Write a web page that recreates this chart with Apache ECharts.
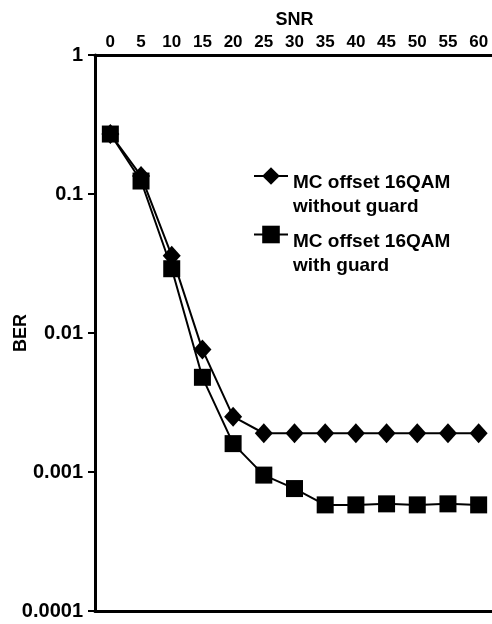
<!DOCTYPE html>
<html>
<head>
    <meta charset="utf-8">
    <title>BER vs SNR</title>
    <script src="https://cdn.jsdelivr.net/npm/echarts@6/dist/echarts.min.js"></script>
    <style>
        html, body { margin: 0; padding: 0; background: #fff; }
    </style>
</head>
<body>
    <div id="main" style="width: 492px;height:624px;"></div>
    <script type="text/javascript">
        // data
        var snr = ['0', '5', '10', '15', '20', '25', '30', '35', '40', '45', '50', '55', '60'];
        var withoutGuard = [0.27, 0.135, 0.036, 0.0076, 0.0025, 0.0019, 0.0019, 0.0019, 0.0019, 0.0019, 0.0019, 0.0019, 0.0019];
        var withGuard = [0.27, 0.124, 0.029, 0.0048, 0.0016, 0.00095, 0.00076, 0.00058, 0.00058, 0.00059, 0.00058, 0.00059, 0.00058];
        var berTicks = {'1': '1', '0.1': '0.1', '0.01': '0.01', '0.001': '0.001', '0.0001': '0.0001'};

        var nameA = 'MC offset 16QAM without guard';
        var nameB = 'MC offset 16QAM with guard';
        // legend text is broken in two lines, icon sits by the first one
        var legendLines = {};
        legendLines[nameA] = ['MC offset 16QAM', 'without guard'];
        legendLines[nameB] = ['MC offset 16QAM', 'with guard'];

        var myChart = echarts.init(document.getElementById('main'));

        var option = {
            animation: false,
            backgroundColor: '#fff',
            textStyle: { fontFamily: 'Liberation Sans' },
            grid: { left: 95, top: 55, width: 399, height: 556, outerBoundsMode: 'none', containLabel: false },
            legend: {
                orient: 'vertical',
                left: 248,
                top: 142,
                itemWidth: 34,
                itemHeight: 22,
                itemGap: -11,
                data: [nameA, nameB],
                formatter: function (name) {
                    return '{s| }\n' + legendLines[name].map(function (l) {
                        return '{t|' + l + '}';
                    }).join('\n');
                },
                textStyle: {
                    color: '#000',
                    rich: {
                        s: { fontSize: 10, lineHeight: 38 },
                        t: {
                            fontFamily: 'Liberation Sans',
                            fontWeight: 'bold',
                            fontSize: 19,
                            color: '#000',
                            lineHeight: 24
                        }
                    }
                }
            },
            xAxis: [{
                type: 'category',
                position: 'top',
                data: snr,
                boundaryGap: true,
                name: 'SNR',
                nameLocation: 'middle',
                nameGap: 26,
                nameMoveOverlap: false,
                nameTextStyle: { fontWeight: 'bold', fontSize: 18, color: '#000' },
                axisLine: { lineStyle: { color: '#000', width: 3 } },
                axisTick: { inside: true, length: 6, lineStyle: { color: '#000', width: 2 } },
                axisLabel: { margin: 4, fontWeight: 'bold', fontSize: 17, color: '#000', interval: 0 }
            }, {
                type: 'category',
                position: 'bottom',
                data: snr,
                axisLine: { lineStyle: { color: '#000', width: 3 } },
                axisTick: { show: false },
                axisLabel: { show: false }
            }],
            yAxis: {
                type: 'log',
                logBase: 10,
                min: 0.0001,
                max: 1,
                name: 'BER',
                nameLocation: 'middle',
                nameGap: 65,
                nameRotate: 90,
                nameMoveOverlap: false,
                nameTextStyle: { fontWeight: 'bold', fontSize: 18, color: '#000' },
                axisLine: { show: true, lineStyle: { color: '#000', width: 3 } },
                axisTick: { show: true, length: 7, lineStyle: { color: '#000', width: 2 } },
                splitLine: { show: false },
                axisLabel: {
                    margin: 12,
                    fontWeight: 'bold',
                    fontSize: 20,
                    color: '#000',
                    formatter: function (v) {
                        var k = String(+v.toPrecision(3));
                        return berTicks[k] !== undefined ? berTicks[k] : k;
                    }
                }
            },
            series: [{
                name: nameA,
                type: 'line',
                data: withoutGuard,
                symbol: 'diamond',
                symbolSize: [18, 20],
                itemStyle: { color: '#000' },
                lineStyle: { color: '#000', width: 2 }
            }, {
                name: nameB,
                type: 'line',
                data: withGuard,
                symbol: 'rect',
                symbolSize: 17,
                itemStyle: { color: '#000' },
                lineStyle: { color: '#000', width: 2 }
            }]
        };

        myChart.setOption(option);
    </script>
</body>
</html>
